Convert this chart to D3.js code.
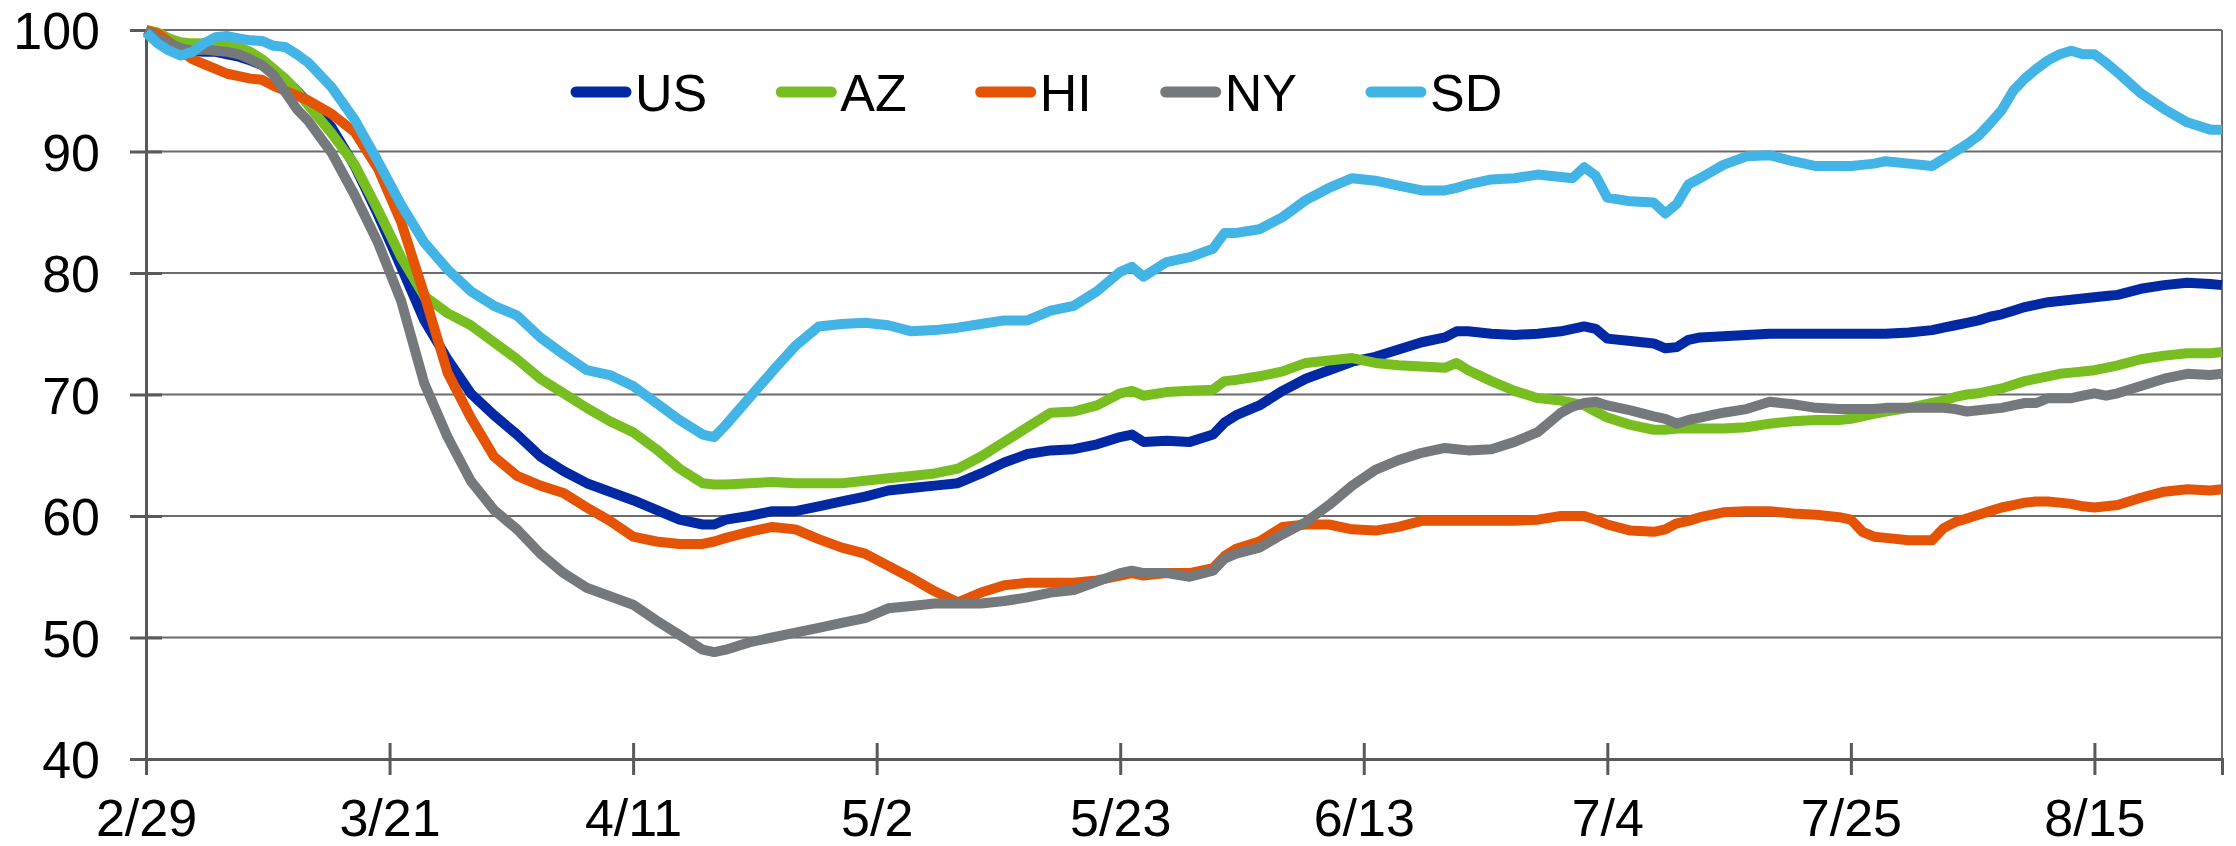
<!DOCTYPE html>
<html>
<head>
<meta charset="utf-8">
<title>Mobility index</title>
<script src="https://cdnjs.cloudflare.com/ajax/libs/d3/7.8.5/d3.min.js"></script>
<style>
  body { margin: 0; background: #ffffff; }
  svg { display: block; }
  text { font-family: "Liberation Sans", Arial, sans-serif; fill: #000000; }
</style>
</head>
<body>
<script>

// days since 2/29 for every point on the lines
var days = [0, 1, 2, 3, 4, 5, 6, 7, 8, 9, 10, 11, 12, 13, 14, 16, 18, 20, 22, 24,
  26, 28, 30, 32, 34, 36, 38, 40, 42, 44, 46, 48, 49, 50, 52, 54, 56, 58, 60, 62,
  64, 66, 68, 70, 72, 74, 76, 78, 80, 82, 84, 85, 86, 88, 90, 92, 93, 94, 96, 98,
  100, 102, 104, 106, 108, 110, 112, 113, 114, 116, 118, 120, 122, 123, 124, 125, 126, 128, 130, 131,
  132, 133, 134, 136, 138, 140, 142, 144, 146, 147, 148, 149, 150, 152, 154, 155, 156, 157, 158, 159,
  160, 161, 162, 163, 164, 165, 166, 167, 168, 169, 170, 172, 174, 176, 178, 179];

var us = [100, 99.4, 98.9, 98.5, 98.3, 98.2, 98.2, 98.0, 97.8, 97.5, 97.1, 96.6, 95.9, 95.0, 94.0, 92.0, 88.8, 84.8, 80.5, 76.1,
  72.9, 70.1, 68.3, 66.7, 64.9, 63.7, 62.7, 62.0, 61.3, 60.5, 59.7, 59.3, 59.3, 59.7, 60.0, 60.4, 60.4, 60.8, 61.2, 61.6,
  62.1, 62.3, 62.5, 62.7, 63.5, 64.4, 65.1, 65.4, 65.5, 65.9, 66.5, 66.7, 66.1, 66.2, 66.1, 66.7, 67.7, 68.3, 69.1, 70.3,
  71.3, 72.0, 72.7, 73.1, 73.7, 74.3, 74.7, 75.2, 75.2, 75.0, 74.9, 75.0, 75.2, 75.4, 75.6, 75.4, 74.6, 74.4, 74.2, 73.8,
  73.9, 74.5, 74.7, 74.8, 74.9, 75.0, 75.0, 75.0, 75.0, 75.0, 75.0, 75.0, 75.0, 75.1, 75.3, 75.5, 75.7, 75.9, 76.1, 76.4,
  76.6, 76.9, 77.2, 77.4, 77.6, 77.7, 77.8, 77.9, 78.0, 78.1, 78.2, 78.7, 79.0, 79.2, 79.1, 79.0];

var az = [100, 99.8, 99.3, 99.0, 98.9, 98.9, 98.8, 98.7, 98.6, 98.2, 97.6, 96.8, 96.0, 95.0, 93.8, 91.5, 88.9, 85.2, 81.3, 78.1,
  76.7, 75.7, 74.3, 72.9, 71.3, 70.1, 68.9, 67.8, 66.9, 65.5, 63.9, 62.7, 62.6, 62.6, 62.7, 62.8, 62.7, 62.7, 62.7, 62.9,
  63.1, 63.3, 63.5, 63.9, 64.9, 66.1, 67.3, 68.5, 68.6, 69.1, 70.1, 70.3, 69.9, 70.2, 70.3, 70.4, 71.1, 71.2, 71.5, 71.9,
  72.6, 72.8, 73.0, 72.6, 72.4, 72.3, 72.2, 72.6, 72.0, 71.1, 70.3, 69.7, 69.5, 69.3, 69.1, 68.6, 68.1, 67.5, 67.1, 67.1,
  67.2, 67.2, 67.2, 67.2, 67.3, 67.6, 67.8, 67.9, 67.9, 68.0, 68.2, 68.4, 68.6, 68.9, 69.3, 69.5, 69.8, 70.0, 70.1, 70.3,
  70.5, 70.8, 71.1, 71.3, 71.5, 71.7, 71.8, 71.9, 72.0, 72.2, 72.4, 72.9, 73.2, 73.4, 73.4, 73.5];

var hi = [100, 99.7, 99.0, 98.3, 97.6, 97.2, 96.8, 96.4, 96.2, 96.0, 95.9, 95.4, 95.0, 94.6, 94.2, 93.1, 91.6, 88.6, 84.2, 78.2,
  71.8, 68.1, 64.9, 63.3, 62.5, 61.9, 60.7, 59.6, 58.3, 57.9, 57.7, 57.7, 57.9, 58.2, 58.7, 59.1, 58.9, 58.1, 57.4, 56.9,
  55.9, 54.9, 53.8, 52.9, 53.7, 54.3, 54.5, 54.5, 54.5, 54.7, 55.1, 55.3, 55.1, 55.3, 55.3, 55.7, 56.7, 57.3, 57.9, 59.1,
  59.3, 59.3, 58.9, 58.8, 59.1, 59.6, 59.6, 59.6, 59.6, 59.6, 59.6, 59.7, 60.0, 60.0, 60.0, 59.7, 59.3, 58.8, 58.7, 58.9,
  59.4, 59.6, 59.9, 60.3, 60.4, 60.4, 60.2, 60.1, 59.9, 59.7, 58.7, 58.3, 58.2, 58.0, 58.0, 59.0, 59.5, 59.8, 60.1, 60.4,
  60.7, 60.9, 61.1, 61.2, 61.2, 61.1, 61.0, 60.8, 60.7, 60.8, 60.9, 61.5, 62.0, 62.2, 62.1, 62.2];

var ny = [100, 99.3, 98.9, 98.5, 98.3, 98.4, 98.3, 98.2, 98.0, 97.6, 97.1, 96.3, 94.9, 93.5, 92.5, 89.9, 86.4, 82.5, 77.7, 70.9,
  66.5, 62.9, 60.5, 58.9, 56.9, 55.3, 54.1, 53.4, 52.7, 51.4, 50.2, 49.0, 48.8, 49.0, 49.6, 50.0, 50.4, 50.8, 51.2, 51.6,
  52.4, 52.6, 52.8, 52.8, 52.8, 53.0, 53.3, 53.7, 53.9, 54.6, 55.3, 55.5, 55.3, 55.3, 55.0, 55.5, 56.5, 56.9, 57.4, 58.5,
  59.5, 60.9, 62.5, 63.8, 64.6, 65.2, 65.6, 65.5, 65.4, 65.5, 66.1, 66.9, 68.5, 69.0, 69.3, 69.4, 69.1, 68.7, 68.2, 68.0,
  67.6, 67.9, 68.1, 68.5, 68.8, 69.4, 69.2, 68.9, 68.8, 68.8, 68.8, 68.8, 68.9, 68.9, 68.9, 68.9, 68.8, 68.6, 68.7, 68.8,
  68.9, 69.1, 69.3, 69.3, 69.7, 69.7, 69.7, 69.9, 70.1, 69.9, 70.1, 70.7, 71.3, 71.7, 71.6, 71.7];

var sd = [99.8, 98.9, 98.3, 97.9, 98.2, 98.9, 99.4, 99.5, 99.3, 99.15, 99.1, 98.7, 98.6, 98.0, 97.3, 95.3, 92.6, 89.2, 85.6, 82.5,
  80.3, 78.5, 77.3, 76.5, 74.7, 73.3, 72.0, 71.6, 70.7, 69.3, 67.9, 66.7, 66.5, 67.5, 69.7, 71.9, 74.0, 75.6, 75.8, 75.9,
  75.7, 75.2, 75.3, 75.5, 75.8, 76.1, 76.1, 76.9, 77.3, 78.5, 80.1, 80.5, 79.7, 80.9, 81.3, 82.0, 83.3, 83.3, 83.6, 84.6,
  86.0, 87.0, 87.8, 87.6, 87.2, 86.8, 86.8, 87.0, 87.3, 87.7, 87.8, 88.1, 87.9, 87.8, 88.7, 88.0, 86.2, 85.9, 85.8, 84.9,
  85.7, 87.3, 87.8, 88.9, 89.6, 89.7, 89.2, 88.8, 88.8, 88.8, 88.9, 89.0, 89.2, 89.0, 88.8, 89.4, 90.0, 90.6, 91.3, 92.3,
  93.4, 95.0, 96.0, 96.8, 97.5, 98.0, 98.3, 98.0, 98.0, 97.3, 96.5, 94.8, 93.5, 92.4, 91.8, 91.8];

// names and colours of the series, in drawing order
var seriesNames = ["US", "AZ", "HI", "NY", "SD"];
var seriesColors = ["#0029a3", "#78be20", "#e55304", "#76797c", "#42b4e6"];
var seriesValues = [us, az, hi, ny, sd];

// tick labels on the axes
var xTickDays = [0, 21, 42, 63, 84, 105, 126, 147, 168];
var xTickLabels = ["2/29", "3/21", "4/11", "5/2", "5/23", "6/13", "7/4", "7/25", "8/15"];
var yTicks = [40, 50, 60, 70, 80, 90, 100];

// defines the sizes (plotTop, not top: window.top can not be overwritten)
var width = 2236;
var height = 846;
var plotLeft = 146;
var plotRight = 2222;
var plotTop = 30;
var plotBottom = 759;

var xScale = d3.scaleLinear()
               .domain([0, 179])
               .range([plotLeft, plotRight]);

var yScale = d3.scaleLinear()
               .domain([40, 100])
               .range([plotBottom, plotTop]);

var svg = d3.select("body")
            .append("svg")
            .attr("width", width)
            .attr("height", height);

// horizontal gridlines
svg.append("g")
   .selectAll("line")
   .data(yTicks.slice(1))
   .enter()
   .append("line")
   .attr("x1", plotLeft)
   .attr("x2", plotRight)
   .attr("y1", function(d) { return yScale(d); })
   .attr("y2", function(d) { return yScale(d); })
   .attr("stroke", "#6b6b6b")
   .attr("stroke-width", 2);

// right border of the plot
svg.append("line")
   .attr("x1", plotRight)
   .attr("x2", plotRight)
   .attr("y1", plotTop)
   .attr("y2", plotBottom)
   .attr("stroke", "#6b6b6b")
   .attr("stroke-width", 2);

// makes the y axis, ticks cross the axis line
var yAxis = d3.axisLeft(yScale)
              .tickValues(yTicks)
              .tickSize(16)
              .tickPadding(30);

var yG = svg.append("g")
            .attr("transform", "translate(" + plotLeft + ",0)")
            .call(yAxis);

// makes the x axis
var xAxis = d3.axisBottom(xScale)
              .tickValues(xTickDays)
              .tickFormat(function(d, i) { return xTickLabels[i]; })
              .tickSize(16)
              .tickPadding(24);

var xG = svg.append("g")
            .attr("transform", "translate(0," + plotBottom + ")")
            .call(xAxis);

[xG, yG].forEach(function(g) {
  g.select(".domain").attr("stroke", "#595959").attr("stroke-width", 3);
  g.selectAll(".tick line").attr("stroke", "#595959").attr("stroke-width", 3);
  g.selectAll(".tick text")
   .style("font-family", "'Liberation Sans', Arial, sans-serif")
   .style("font-size", "52px")
   .attr("fill", "#000000");
});
xG.selectAll(".tick line").attr("y1", -16).attr("y2", 16);
yG.selectAll(".tick line").attr("x1", -16).attr("x2", 16);
yG.selectAll(".tick text").attr("dy", "0.36em");

// draws the lines
var line = d3.line()
             .x(function(d, i) { return xScale(days[i]); })
             .y(function(d) { return yScale(d); });

svg.append("g")
   .selectAll("path")
   .data(seriesValues)
   .enter()
   .append("path")
   .attr("d", function(d) { return line(d); })
   .attr("fill", "none")
   .attr("stroke", function(d, i) { return seriesColors[i]; })
   .attr("stroke-width", 10)
   .attr("stroke-linejoin", "round");

// legend inside the plot
var legend = svg.append("g");
var legendX = 571;
var legendY = 92;
seriesNames.forEach(function(name, i) {
  legend.append("line")
        .attr("x1", legendX + 5)
        .attr("x2", legendX + 55)
        .attr("y1", legendY)
        .attr("y2", legendY)
        .attr("stroke", seriesColors[i])
        .attr("stroke-width", 11)
        .attr("stroke-linecap", "round");
  var t = legend.append("text")
                .attr("x", legendX + 64)
                .attr("y", legendY)
                .attr("dy", "0.36em")
                .style("font-size", "52px")
                .text(name);
  legendX = legendX + 64 + t.node().getComputedTextLength() + 69;
});

</script>
</body>
</html>
